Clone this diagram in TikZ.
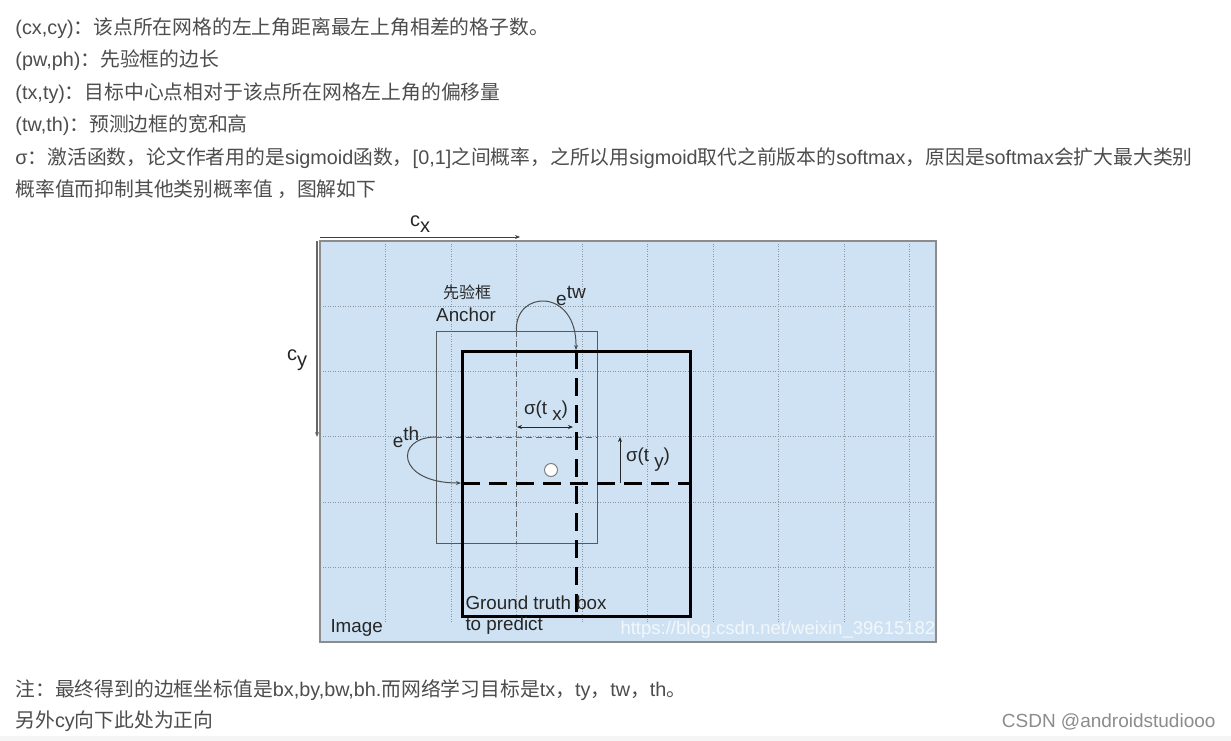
\documentclass[tikz,border=0pt]{standalone}
\usepackage{fontspec}
\setmainfont{Liberation Sans}
\newfontfamily\cjk{Noto Sans CJK SC}
\usetikzlibrary{arrows.meta}
\newcommand\zh[1]{{\cjk #1}}
\definecolor{imgblue}{RGB}{207,226,243}
\definecolor{txtgray}{RGB}{77,77,77}
\definecolor{gridgray}{RGB}{140,150,160}

\begin{document}
\begin{tikzpicture}[x=1pt, y=-1pt, >={Stealth[length=5pt, width=4pt]}, line width=1pt,
  para/.style={anchor=west, inner sep=0pt, text=txtgray, font=\fontsize{19.8}{23}\selectfont},
  lbl/.style={inner sep=0pt, text=black!85, font=\fontsize{18.8}{21}\selectfont},
  gridline/.style={gridgray, line width=0.8pt, dash pattern=on 1pt off 1.5pt},
  thindash/.style={black!60, line width=0.8pt, dash pattern=on 6pt off 4pt},
  gtline/.style={line width=3pt, dash pattern=on 18pt off 9pt}]
  \useasboundingbox (0,0) rectangle (1231,741);
  \fill[white] (0,0) rectangle (1231,741);
  \fill[black!4] (0,736) rectangle (1231,741);
  % ===== text above =====
  \node[para] (l1) at (15,28) {(cx,cy)\zh{：该点所在网格的左上角距离最左上角相差的格子数。}};
  \node[para] (l2) at (15,60) {(pw,ph)\zh{：先验框的边长}};
  \node[para] (l3) at (15,93) {(tx,ty)\zh{：目标中心点相对于该点所在网格左上角的偏移量}};
  \node[para] (l4) at (15,125) {(tw,th)\zh{：预测边框的宽和高}};
  \node[para] (l5) at (15,158) {σ\zh{：激活函数，论文作者用的是}sigmoid\zh{函数，}[0,1]\zh{之间概率，之所以用}sigmoid\zh{取代之前版本的}softmax\zh{，原因是}softmax\zh{会扩大最大类别}};
  \node[para] (l6) at (15,189) {\zh{概率值而抑制其他类别概率值 ，图解如下}};
  % ===== image =====
  \coordinate (imgnw) at (320,241); \coordinate (imgse) at (936,642);
  \fill[imgblue] (imgnw) rectangle (imgse);
  \foreach \i in {1,...,9} \draw[gridline] (320+65.5*\i,241) -- (320+65.5*\i,622);
  \foreach \j in {1,...,5} \draw[gridline] (320,241+65.25*\j) -- (936,241+65.25*\j);
  \draw[black!45, line width=1.5pt] (imgnw) rectangle (imgse);
  \coordinate (cx0) at (320,237); \coordinate (cx1) at (520,237);
  \draw[->, black!75] (cx0) -- (cx1);
  \coordinate (cy0) at (317,241); \coordinate (cy1) at (317,437);
  \draw[->, black!60, line width=1.5pt] (cy0) -- (cy1);
  \node[lbl, font=\fontsize{20}{22}\selectfont] (cxlab) at (420,224) {c\raisebox{-6pt}{x}};
  \node[lbl, font=\fontsize{20}{22}\selectfont] (cylab) at (297,360) {c\raisebox{-6pt}{y}};
  % ===== anchor =====
  \coordinate (anw) at (436,331); \coordinate (ase) at (597,543);
  \draw[black!65] (anw) rectangle (ase);
  \coordinate (at) at (516.5,331); \coordinate (ab) at (516.5,543);
  \coordinate (al) at (436,437); \coordinate (ar) at (597,437);
  \draw[thindash] (at) -- (ab); \draw[thindash] (al) -- (ar);
  \node[lbl, font=\cjk\fontsize{16}{18}\selectfont] (azh) at (467,292) {先验框};
  \node[lbl] (aen) at (466,315) {Anchor};
  % ===== ground truth =====
  \coordinate (gnw) at (462,351); \coordinate (gse) at (690,616);
  \draw[line width=3pt] (gnw) rectangle (gse);
  \coordinate (gt) at (576,351); \coordinate (gb) at (576,616);
  \coordinate (gl) at (462,483); \coordinate (gr) at (690,483);
  \draw[gtline] (gt) -- (gb); \draw[gtline] (gl) -- (gr);
  \draw[->, black!70] (at) .. controls (514,290) and (577,287) .. (576,350);
  \draw[->, black!70] (al) .. controls (394,437) and (396,483) .. (461,483);
  \node[lbl, font=\fontsize{19}{21}\selectfont] (ewlab) at (571,296) {e\raisebox{7pt}{tw}};
  \node[lbl, font=\fontsize{19}{21}\selectfont] (ehlab) at (406,437) {e\raisebox{7pt}{th}};
  \coordinate (sx0) at (517,427); \coordinate (sx1) at (573,427);
  \draw[<->, black!85] (sx0) -- (sx1);
  \coordinate (sy0) at (620,483); \coordinate (sy1) at (620,437);
  \draw[->, black!85] (sy0) -- (sy1);
  \node[lbl] (sxlab) at (546,411) {σ(t \raisebox{-6pt}{x})};
  \node[lbl] (sylab) at (648,460) {σ(t \raisebox{-6pt}{y})};
  \node[draw=black!50, fill=white, circle, minimum size=13pt, inner sep=0pt] (ctr) at (551,470) {};
  \node[lbl, anchor=west] (gtlab1) at (465,603) {Ground truth box};
  \node[lbl, anchor=west] (gtlab2) at (465,626) {to predict};
  \node[lbl, anchor=west] (imglab) at (330,628) {Image};
  \node[anchor=west, inner sep=0pt, text=white, opacity=0.75, font=\fontsize{18.5}{21}\selectfont] (wm) at (620,630) {https://blog.csdn.net/weixin\_39615182};
  % ===== text below =====
  \node[para] (n1) at (15,690) {\zh{注：最终得到的边框坐标值是}bx,by,bw,bh.\zh{而网络学习目标是}tx\zh{，}ty\zh{，}tw\zh{，}th\zh{。}};
  \node[para] (n2) at (15,721) {\zh{另外}cy\zh{向下此处为正向}};
  \node[anchor=east, inner sep=0pt, text=black!45, font=\fontsize{19}{22}\selectfont] (csdn) at (1216,722) {CSDN @androidstudiooo};
\end{tikzpicture}
\end{document}
